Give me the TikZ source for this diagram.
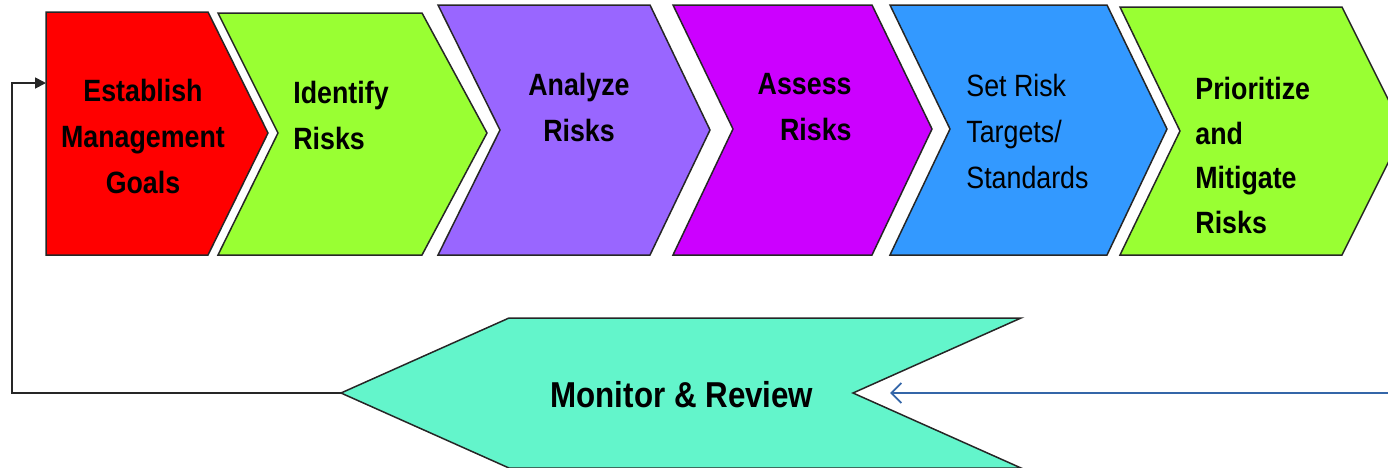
\documentclass[tikz,border=0pt]{standalone}
\usepackage{fontspec}
\usetikzlibrary{arrows.meta}
\setmainfont{Liberation Sans}[FakeStretch=0.87]
\definecolor{stepred}{HTML}{FF0000}
\definecolor{steplime}{HTML}{99FF33}
\definecolor{steplilac}{HTML}{9966FF}
\definecolor{stepmagenta}{HTML}{CC00FF}
\definecolor{stepblue}{HTML}{3399FF}
\definecolor{stepteal}{HTML}{63F5CB}
\definecolor{feedblue}{HTML}{3466A8}

\begin{document}
\begin{tikzpicture}[x=0.5pt, y=-0.5pt,
  chev/.style={draw=black!85, line width=0.75pt, line join=miter},
  lbl/.style={inner sep=0pt, font=\bfseries\fontsize{15.4}{23}\selectfont},
  loopline/.style={draw=black!85, line width=0.9pt, -{Triangle[length=5.5pt, width=5.5pt]}},
  feedline/.style={draw=feedblue, line width=0.9pt, -{Straight Barb[length=5pt, width=10pt]}}]
\clip (0,0) rectangle (1388,467);

% process steps, left to right
\filldraw[chev, fill=stepred] (46,12) -- (208,12) -- (268,133) -- (208,255) -- (46,255) -- cycle;
\filldraw[chev, fill=steplime] (218,13) -- (422,13) -- (487,133) -- (422,255) -- (218,255) -- (278,133) -- cycle;
\filldraw[chev, fill=steplilac] (438,5) -- (650,5) -- (710,130) -- (650,255) -- (438,255) -- (500,130) -- cycle;
\filldraw[chev, fill=stepmagenta] (673,5) -- (872,5) -- (932,129) -- (872,255) -- (673,255) -- (733,129) -- cycle;
\filldraw[chev, fill=stepblue] (890,5) -- (1107,5) -- (1167,129) -- (1107,255) -- (890,255) -- (950,129) -- cycle;
\filldraw[chev, fill=steplime] (1120,7) -- (1342,7) -- (1404,131) -- (1342,255) -- (1120,255) -- (1180,131) -- cycle;

% monitoring step, pointing back
\filldraw[chev, fill=stepteal] (509,318) -- (1021,318) -- (853,393) -- (1021,468) -- (509,468) -- (341,393) -- cycle;

\node[lbl, align=center] (est) at (143,136.5) {Establish\\Management\\Goals};
\node[lbl, align=left, anchor=west] (ident) at (293,115) {Identify\\Risks};
\node[lbl, align=center] (analyze) at (579,107) {Analyze\\Risks};
\node[lbl, align=right, anchor=east] (assess) at (852,107) {Assess\\Risks};
\node[lbl, align=left, anchor=west, font=\fontsize{15.4}{23}\selectfont] (targets) at (966,131.5) {Set Risk\\Targets/\\Standards};
\node[lbl, align=left, anchor=west, font=\bfseries\fontsize{15.4}{22.2}\selectfont] (prior) at (1195,155.5) {Prioritize\\and\\Mitigate\\Risks};
\node[lbl, font=\bfseries\fontsize{18}{23}\selectfont] (monitor) at (682,395) {Monitor \& Review};

\coordinate (mtip) at (341,393);
\coordinate (ein) at (46,83);
\coordinate (feed) at (1388,393);
\coordinate (min) at (890,393);

\draw[loopline] (mtip) -- (12,393) |- (ein);
\draw[feedline] (feed) -- (min);
\end{tikzpicture}
\end{document}
